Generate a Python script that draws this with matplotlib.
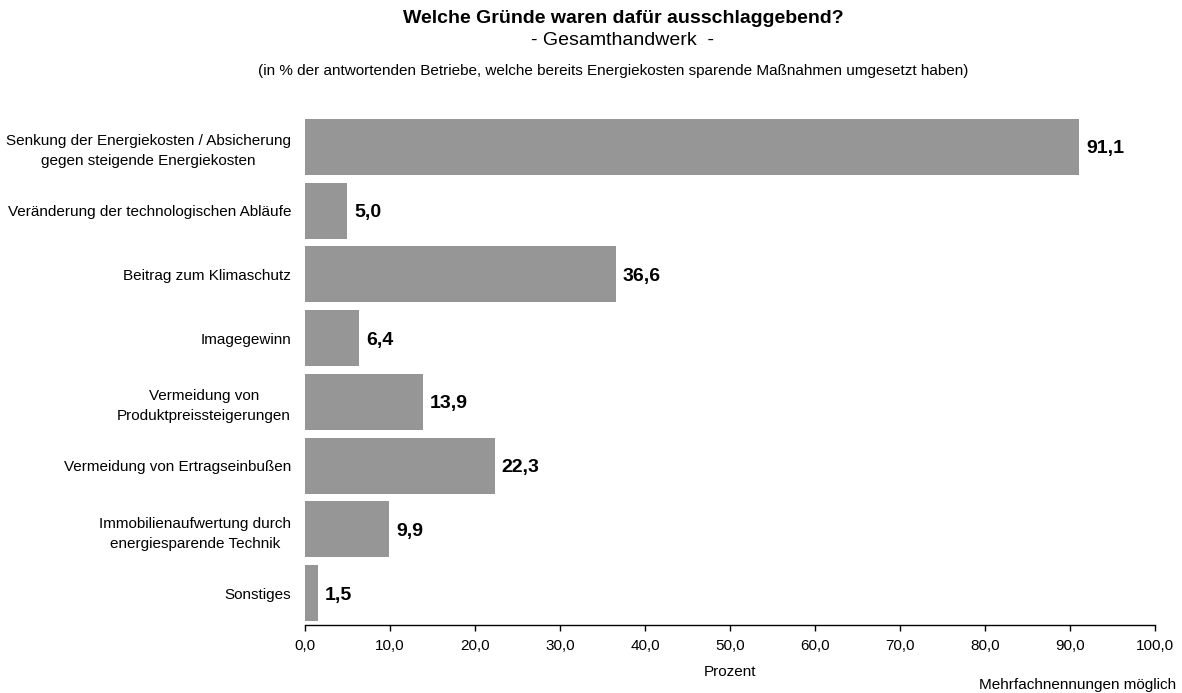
import matplotlib.pyplot as plt
from matplotlib.ticker import FuncFormatter

plt.rcParams['font.family'] = ['Liberation Sans', 'DejaVu Sans']

categories = [
    "Senkung der Energiekosten / Absicherung\ngegen steigende Energiekosten",
    "Veränderung der technologischen Abläufe",
    "Beitrag zum Klimaschutz",
    "Imagegewinn",
    "Vermeidung von\nProduktpreissteigerungen",
    "Vermeidung von Ertragseinbußen",
    "Immobilienaufwertung durch\nenergiesparende Technik",
    "Sonstiges",
]
values = [91.1, 5.0, 36.6, 6.4, 13.9, 22.3, 9.9, 1.5]
xticks = [0, 10, 20, 30, 40, 50, 60, 70, 80, 90, 100]

def de(v, p=1):
    return f"{v:.{p}f}".replace(".", ",")

fig = plt.figure(figsize=(11.82, 6.93), dpi=100)
ax = fig.add_axes([0.258, 0.0981, 0.7191, 0.7359])

ypos = list(range(len(values)))
ax.barh(ypos, values, height=0.88, color="#969696", edgecolor="none")
for y, v in zip(ypos, values):
    ax.text(v + 0.8, y + 0.03, de(v), va="center", ha="left", fontsize=14, fontweight="bold")

ax.set_ylim(7.5, -0.5)
ax.set_xlim(0, 100)
ax.set_yticks(ypos)
ax.set_yticklabels(categories, fontsize=11, multialignment="center", linespacing=1.55)
ax.tick_params(axis="y", length=0, pad=10)
ax.set_xticks(xticks)
ax.xaxis.set_major_formatter(FuncFormatter(lambda v, p: de(v)))
ax.tick_params(axis="x", labelsize=11, length=4, width=1, pad=6)
for s in ["top", "right", "left"]:
    ax.spines[s].set_visible(False)
ax.spines["bottom"].set_linewidth(1)

ax.set_xlabel("Prozent", fontsize=11, labelpad=9)

fig.text(0.527, 0.973, "Welche Gründe waren dafür ausschlaggebend?", ha="center", va="center",
         fontsize=14, fontweight="bold")
fig.text(0.527, 0.941, "- Gesamthandwerk  -", ha="center", va="center", fontsize=14)
fig.text(0.519, 0.898, "(in % der antwortenden Betriebe, welche bereits Energiekosten sparende Maßnahmen umgesetzt haben)",
         ha="center", va="center", fontsize=11)
fig.text(0.995, 0.002, "Mehrfachnennungen möglich", ha="right", va="bottom", fontsize=11)

fig.savefig("out.png", dpi=100)
